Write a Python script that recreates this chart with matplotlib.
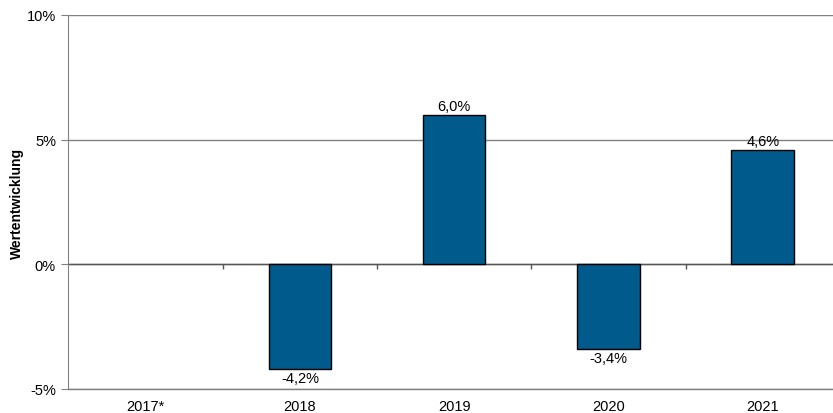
import numpy as np
import matplotlib.pyplot as plt

plt.rcParams['font.family'] = ['Liberation Sans', 'DejaVu Sans']

years = ['2017*', '2018', '2019', '2020', '2021']
values = [np.nan, -4.2, 6.0, -3.4, 4.6]
labels = ['', '-4,2%', '6,0%', '-3,4%', '4,6%']

bar_color = '#005a8c'
line_color = '#808080'

fig = plt.figure(figsize=(8.33, 4.14), dpi=100)
ax = fig.add_axes([0.0822, 0.058, 0.926, 0.9034])

x = np.arange(len(years))
ax.bar(x, values, width=0.405, color=bar_color, edgecolor='black', linewidth=1, zorder=3)

# value labels
for xi, v, lab in zip(x, values, labels):
    if np.isnan(v):
        continue
    if v >= 0:
        ax.annotate(lab, (xi, v), xytext=(0, 1.5), textcoords='offset points',
                    ha='center', va='bottom', fontsize=10.5)
    else:
        ax.annotate(lab, (xi, v), xytext=(0, -1.5), textcoords='offset points',
                    ha='center', va='top', fontsize=10.5)

ax.set_xlim(-0.5, len(years) - 0.5)
ax.set_ylim(-5, 10)
ax.set_yticks([-5, 0, 5, 10])
ax.set_yticklabels(['-5%', '0%', '5%', '10%'])
ax.yaxis.grid(True, color=line_color, linewidth=1)
ax.set_axisbelow(True)
ax.axhline(-5, color=line_color, linewidth=1, clip_on=False)

# zero line with category separators
ax.axhline(0, color='#555555', linewidth=1, zorder=2)
ax.vlines(x[:-1] + 0.5, -0.18, 0, color='#555555', linewidth=1, zorder=2)

ax.set_xticks(x)
ax.set_xticklabels(years)
ax.tick_params(axis='x', length=0, pad=7, labelsize=10.5)
ax.tick_params(axis='y', length=5, color=line_color, labelsize=10.5, pad=4)

for s in ['top', 'right', 'bottom']:
    ax.spines[s].set_visible(False)
ax.spines['left'].set_color(line_color)

ax.set_ylabel('Wertentwicklung', fontsize=10, fontweight='bold', labelpad=2)

fig.savefig('out.png', dpi=100)
